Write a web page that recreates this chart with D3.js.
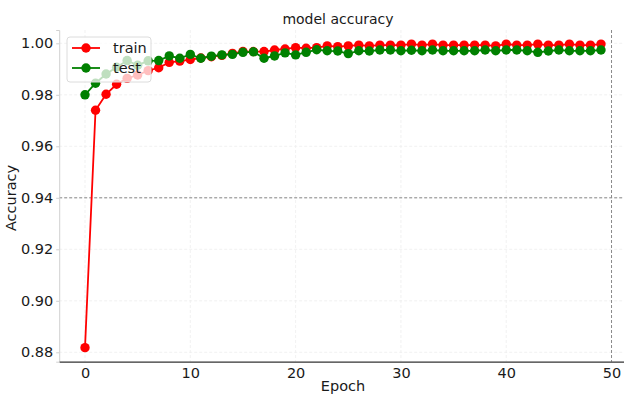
<!DOCTYPE html>
<html>
<head>
<meta charset="utf-8">
<script src="https://cdn.jsdelivr.net/npm/d3@7"></script>
<style>
  html, body { margin: 0; padding: 0; background: #fff; }
  svg { display: block; font-family: "DejaVu Sans", sans-serif; }
</style>
</head>
<body>
<svg id="chart" width="624" height="396"></svg>
<script>
// Training history: accuracy per epoch
const epochs = d3.range(50);
const trainAcc = [
  0.8818, 0.9740, 0.9802, 0.9841, 0.9864, 0.9877, 0.9894, 0.9905, 0.9926, 0.9931,
  0.9937, 0.9943, 0.9948, 0.9953, 0.9961, 0.9968, 0.9968, 0.9968, 0.9974, 0.9978,
  0.9983, 0.9981, 0.9983, 0.9990, 0.9987, 0.9990, 0.9993, 0.9990, 0.9993, 0.9993,
  0.9993, 0.9997, 0.9993, 0.9997, 0.9993, 0.9993, 0.9993, 0.9993, 0.9993, 0.9990,
  0.9997, 0.9993, 0.9993, 0.9997, 0.9993, 0.9993, 0.9997, 0.9993, 0.9993, 0.9997
];
const testAcc = [
  0.9800, 0.9845, 0.9881, 0.9907, 0.9933, 0.9915, 0.9932, 0.9933, 0.9951, 0.9942,
  0.9957, 0.9942, 0.9950, 0.9955, 0.9957, 0.9965, 0.9967, 0.9942, 0.9951, 0.9963,
  0.9955, 0.9965, 0.9975, 0.9971, 0.9970, 0.9960, 0.9971, 0.9970, 0.9974, 0.9974,
  0.9971, 0.9973, 0.9971, 0.9974, 0.9971, 0.9971, 0.9971, 0.9971, 0.9974, 0.9971,
  0.9974, 0.9974, 0.9971, 0.9965, 0.9970, 0.9974, 0.9971, 0.9971, 0.9971, 0.9974
];
const xTicks = [0, 10, 20, 30, 40, 50];
const yTicks = [0.88, 0.90, 0.92, 0.94, 0.96, 0.98, 1.00];
const refY = 0.94;   // reference accuracy level
const refX = 50;     // reference epoch

const seriesList = [
  { name: "train", values: trainAcc, color: "#ff0000" },
  { name: "test",  values: testAcc,  color: "#008000" }
];

const svg = d3.select("#chart");
const plotLeft = 59.2, plotRight = 626.8, plotTop = 30, plotBottom = 361.7;

const x = d3.scaleLinear().domain([-2.45, 51.45]).range([plotLeft, plotRight]);
const y = d3.scaleLinear().domain([0.87635, 1.00517]).range([plotBottom, plotTop]);

// faint grid
const grid = svg.append("g");
grid.selectAll(".gy").data(yTicks).join("line")
  .attr("x1", plotLeft).attr("x2", plotRight)
  .attr("y1", d => y(d)).attr("y2", d => y(d))
  .attr("stroke", "#eeeeee").attr("stroke-width", 0.8)
  .attr("stroke-dasharray", "3,2");
grid.selectAll(".gx").data(xTicks).join("line")
  .attr("y1", plotTop).attr("y2", plotBottom)
  .attr("x1", d => x(d)).attr("x2", d => x(d))
  .attr("stroke", "#eeeeee").attr("stroke-width", 0.8)
  .attr("stroke-dasharray", "3,2");

// reference lines
svg.append("line")
  .attr("x1", plotLeft).attr("x2", plotRight)
  .attr("y1", y(refY)).attr("y2", y(refY))
  .attr("stroke", "#8a8a8a").attr("stroke-width", 1)
  .attr("stroke-dasharray", "3,2");
svg.append("line")
  .attr("x1", x(refX)).attr("x2", x(refX))
  .attr("y1", plotTop).attr("y2", plotBottom)
  .attr("stroke", "#8a8a8a").attr("stroke-width", 1)
  .attr("stroke-dasharray", "3,2");

// axes
const yAxis = d3.axisLeft(y).tickValues(yTicks).tickFormat(d3.format(".2f")).tickSize(3).tickPadding(3);
const gy = svg.append("g").attr("transform", `translate(${plotLeft},0)`).call(yAxis);
gy.select(".domain").attr("stroke", "#d0d0d0");
gy.selectAll(".tick line").attr("stroke", "#d0d0d0");
gy.selectAll(".tick text").attr("font-size", 14.5).attr("fill", "#1a1a1a")
  .attr("font-family", "DejaVu Sans, sans-serif");

const xAxis = d3.axisBottom(x).tickValues(xTicks).tickFormat(d3.format("d")).tickSize(0).tickPadding(6);
const gx = svg.append("g").attr("transform", `translate(0,${plotBottom})`).call(xAxis);
gx.select(".domain").attr("stroke", "#333").attr("stroke-width", 1.2);
gx.selectAll(".tick text").attr("font-size", 14.5).attr("fill", "#1a1a1a")
  .attr("font-family", "DejaVu Sans, sans-serif");

// series
const line = d3.line().x((d, i) => x(epochs[i])).y(d => y(d));
seriesList.forEach(s => {
  const g = svg.append("g");
  g.append("path").datum(s.values)
    .attr("d", line).attr("fill", "none")
    .attr("stroke", s.color).attr("stroke-width", 1.8);
  g.selectAll("circle").data(s.values).join("circle")
    .attr("cx", (d, i) => x(epochs[i])).attr("cy", d => y(d))
    .attr("r", 4.7).attr("fill", s.color);
});

// labels
svg.append("text").attr("x", 338).attr("y", 24).attr("text-anchor", "middle")
  .attr("font-size", 14).attr("fill", "#1a1a1a").text("model accuracy");
svg.append("text").attr("x", 343).attr("y", 391).attr("text-anchor", "middle")
  .attr("font-size", 14.5).attr("fill", "#1a1a1a").text("Epoch");
svg.append("text").attr("transform", "translate(16,198) rotate(-90)")
  .attr("text-anchor", "middle").attr("font-size", 14.5).attr("fill", "#1a1a1a").text("Accuracy");

// legend
const lg = svg.append("g").attr("transform", "translate(67,37)");
lg.append("rect").attr("width", 84).attr("height", 45).attr("rx", 3)
  .attr("fill", "#fff").attr("fill-opacity", 0.75)
  .attr("stroke", "#dcdcdc").attr("stroke-width", 1);
seriesList.forEach((s, i) => {
  const cy = 11 + i * 20;
  lg.append("line").attr("x1", 5).attr("x2", 33).attr("y1", cy).attr("y2", cy)
    .attr("stroke", s.color).attr("stroke-width", 1.8);
  lg.append("circle").attr("cx", 19).attr("cy", cy).attr("r", 4.7).attr("fill", s.color);
  lg.append("text").attr("x", 46).attr("y", cy + 5).attr("font-size", 14.5)
    .attr("fill", "#1a1a1a").text(s.name);
});
</script>
</body>
</html>
